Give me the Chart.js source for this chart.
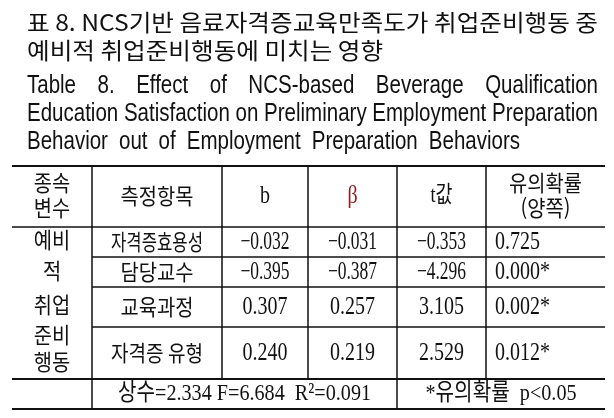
<!DOCTYPE html>
<html lang="ko">
<head>
<meta charset="utf-8">
<title>Table 8</title>
<script src="https://cdn.jsdelivr.net/npm/chart.js@4.4.1/dist/chart.umd.min.js"></script>
<style>
  html, body { margin: 0; padding: 0; background: #fff; }
  canvas { display: block; }
</style>
</head>
<body>
<canvas id="table-chart" width="614" height="418"></canvas>
<script>
'use strict';

// Table content
const titleKo = ['표 8. NCS기반 음료자격증교육만족도가 취업준비행동 중', '예비적 취업준비행동에 미치는 영향'];
const titleEn = [
  'Table 8. Effect of NCS-based Beverage Qualification',
  'Education Satisfaction on Preliminary Employment Preparation',
  'Behavior out of Employment Preparation Behaviors'
];
const headers = [['종속', '변수'], ['측정항목'], ['b'], ['β'], ['t값'], ['유의확률', '(양쪽)']];
const dependentVar = ['예비', '적', '취업', '준비', '행동'];
const items = ['자격증효용성', '담당교수', '교육과정', '자격증 유형'];
const bValues = [-0.032, -0.395, 0.307, 0.240];
const betaValues = [-0.031, -0.387, 0.257, 0.219];
const tValues = [-0.353, -4.296, 3.105, 2.529];
const pValues = [0.725, 0.000, 0.002, 0.012];
const modelStats = { constant: 2.334, F: 6.684, R2: 0.091 };
const pLimit = 0.05;

// Layout (table units on the x / y scales)
const colEdges = [12, 92, 222, 308, 397, 486, 605];
const rowEdges = [166, 227, 257, 287, 327, 379, 409];
const titleLeft = 27;
const titleRight = [598, 598, 520];

// Build table rules as line segments
function makeRules() {
  let segs = [];
  let left = colEdges[0], right = colEdges[colEdges.length - 1];
  // full width horizontals
  [0, 1, 5, 6].forEach(i => segs.push({ pts: [[left, rowEdges[i]], [right, rowEdges[i]]], w: (i === 1 ? 1.5 : 2) }));
  // partial horizontals inside the body
  [2, 3, 4].forEach(i => segs.push({ pts: [[colEdges[1], rowEdges[i]], [right, rowEdges[i]]], w: 1.5 }));
  // verticals
  segs.push({ pts: [[colEdges[1], rowEdges[0]], [colEdges[1], rowEdges[6]]], w: 1.5 });
  segs.push({ pts: [[colEdges[4], rowEdges[0]], [colEdges[4], rowEdges[6]]], w: 1.5 });
  [2, 3, 5].forEach(c => segs.push({ pts: [[colEdges[c], rowEdges[0]], [colEdges[c], rowEdges[5]]], w: 1.5 }));

  return segs.map(s => ({
    data: s.pts.map(p => ({ x: p[0], y: p[1] })),
    showLine: true,
    borderColor: '#111',
    borderWidth: s.w,
    pointRadius: 0,
    fill: false
  }));
}

function fmt(v) {
  return (v < 0 ? '\u2212' : '') + Math.abs(v).toFixed(3);
}

function drawText(ctx, text, px, py, font, align, sx, color) {
  ctx.save();
  ctx.translate(px, py);
  ctx.scale(sx, 1);
  ctx.font = font;
  ctx.fillStyle = color || '#111';
  ctx.textAlign = align;
  ctx.textBaseline = 'middle';
  ctx.fillText(text, 0, 0);
  ctx.restore();
}

// Squeeze text so it never gets wider than maxW
function fitScale(ctx, text, font, sx, maxW) {
  ctx.font = font;
  let w = ctx.measureText(text).width;
  return Math.min(sx, maxW / w);
}

// Draw words spread between x0 and x1
function drawJustified(ctx, text, x0, x1, py, font, sx) {
  ctx.save();
  ctx.font = font;
  let words = text.split(' ');
  let widths = words.map(w => ctx.measureText(w).width * sx);
  let total = widths.reduce((a, b) => a + b, 0);
  let gap = (x1 - x0 - total) / (words.length - 1);
  let cx = x0;
  ctx.restore();
  words.forEach((w, i) => {
    drawText(ctx, w, cx, py, font, 'left', sx);
    cx += widths[i] + gap;
  });
}

const tablePlugin = {
  id: 'tableText',
  afterDraw(chart) {
    const ctx = chart.ctx;
    const xs = chart.scales.x, ys = chart.scales.y;
    const X = v => xs.getPixelForValue(v);
    const Y = v => ys.getPixelForValue(v);

    // title (Korean)
    const koFont = '23px "Noto Sans CJK KR"';
    ctx.font = koFont;
    let koScale = (X(titleRight[0]) - X(titleLeft)) / ctx.measureText(titleKo[0]).width;
    drawText(ctx, titleKo[0], X(titleLeft), Y(22), koFont, 'left', koScale);
    drawText(ctx, titleKo[1], X(titleLeft), Y(50), koFont, 'left', koScale);

    // title (English)
    const enFont = '26px "Liberation Sans"';
    ctx.font = enFont;
    let enScale = (X(titleRight[1]) - X(titleLeft)) / ctx.measureText(titleEn[1]).width;
    const enY = [86, 114, 142];
    titleEn.forEach((line, i) => {
      drawJustified(ctx, line, X(titleLeft), X(titleRight[i]), Y(enY[i]), enFont, enScale);
    });

    const cellKo = '22px "Noto Sans CJK KR"';
    const cellNum = '25px "Liberation Serif"';
    const colMid = c => X((colEdges[c] + colEdges[c + 1]) / 2);
    const rowMid = r => Y((rowEdges[r] + rowEdges[r + 1]) / 2);

    // header
    const headY = [[183, 208], [196], [196], [196], [196], [183, 208]];
    headers.forEach((lines, c) => {
      lines.forEach((t, k) => {
        let font = cellKo;
        let sx = 0.9;
        if (c === 2 || c === 3) { font = '25px "Liberation Serif"'; sx = 0.8; }
        if (c === 4) { font = '23px "Liberation Serif", "Noto Sans CJK KR"'; sx = 0.8; }
        let color = c === 3 ? '#8e1b1b' : '#111';
        drawText(ctx, t, colMid(c), Y(headY[c][k]), font, 'center', sx, color);
      });
    });

    // dependent variable column
    const depY = [240, 271, 305, 335, 362];
    dependentVar.forEach((t, i) => drawText(ctx, t, colMid(0), Y(depY[i]), cellKo, 'center', 0.9));

    // body rows
    items.forEach((name, r) => {
      let ry = rowMid(r + 1);
      let sx = fitScale(ctx, name, cellKo, 0.9, 92);
      drawText(ctx, name, colMid(1), ry, cellKo, 'center', sx);
      [bValues, betaValues, tValues].forEach((arr, k) => {
        let v = arr[r];
        drawText(ctx, fmt(v), colMid(k + 2), ry, cellNum, 'center', v < 0 ? 0.7 : 0.8);
      });
      let p = pValues[r];
      drawText(ctx, p.toFixed(3) + (p < pLimit ? '*' : ''), X(colEdges[5] + 9), ry, cellNum, 'left', 0.8);
    });

    // footer
    const footFont = '24px "Liberation Serif", "Noto Sans CJK KR"';
    let fy = rowMid(5);
    let stats = '상수=' + modelStats.constant.toFixed(3) + ' F=' + modelStats.F.toFixed(3) +
      '  R\u00b2=' + modelStats.R2.toFixed(3);
    drawText(ctx, stats, X((colEdges[1] + colEdges[4]) / 2), fy, footFont, 'center', 0.84);
    drawText(ctx, '*유의확률  p<' + pLimit.toFixed(2), X((colEdges[4] + colEdges[6]) / 2), fy, footFont, 'center', 0.84);
  }
};

function setup() {
  let ctx = document.getElementById('table-chart').getContext('2d');
  new Chart(ctx, {
    type: 'scatter',
    data: { datasets: makeRules() },
    options: {
      responsive: false,
      animation: false,
      events: [],
      layout: { padding: 0 },
      scales: {
        x: { type: 'linear', min: 0, max: 614, display: false },
        y: { type: 'linear', min: 0, max: 418, reverse: true, display: false }
      },
      plugins: {
        legend: { display: false },
        tooltip: { enabled: false }
      }
    },
    plugins: [tablePlugin]
  });
}

window.addEventListener('load', setup);
</script>
</body>
</html>
